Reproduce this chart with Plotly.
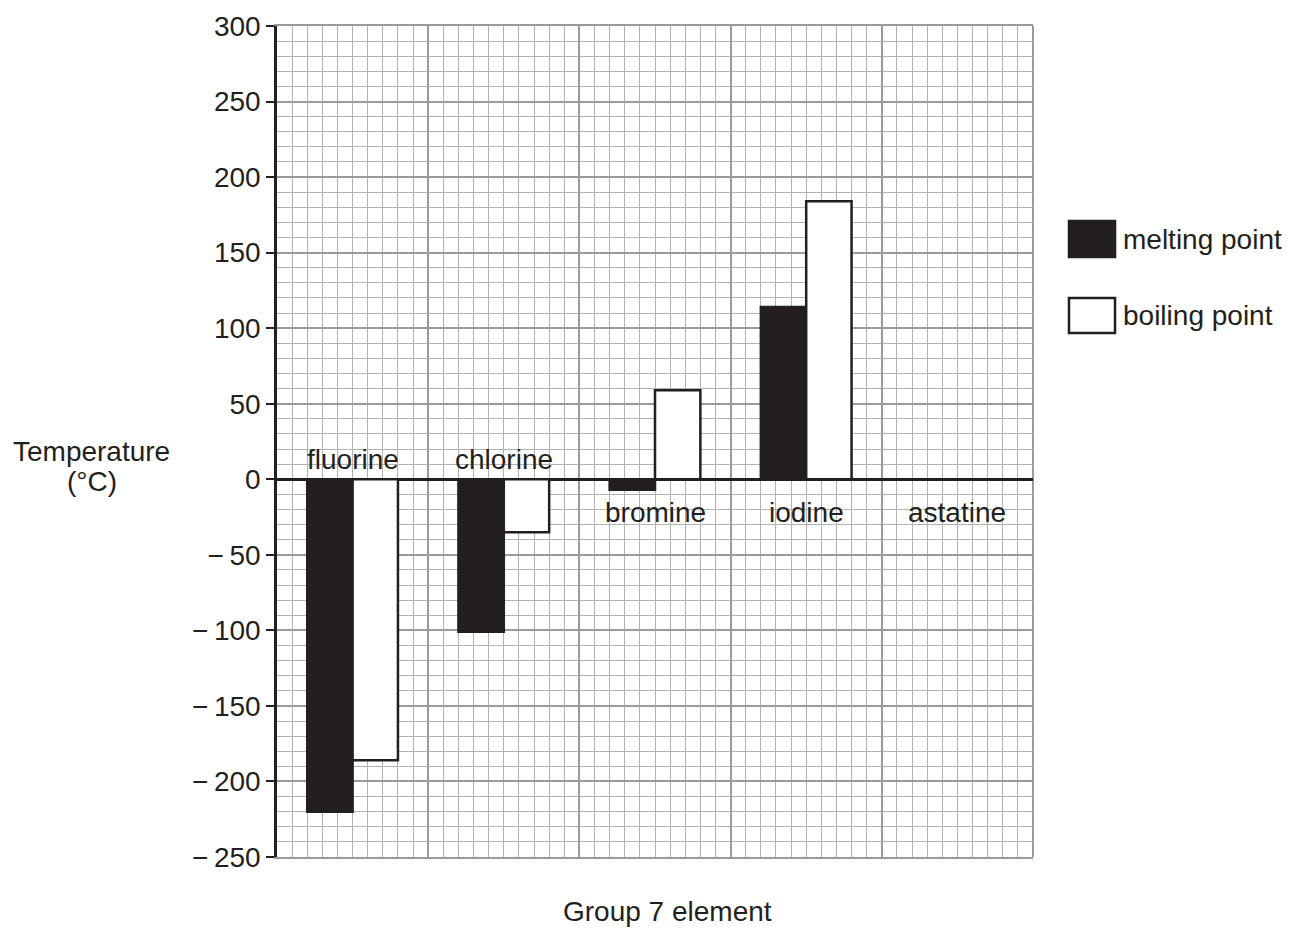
import plotly.graph_objects as go

elements = ["fluorine", "chlorine", "bromine", "iodine", "astatine"]
melting_point = [-220, -101, -7, 114, None]
boiling_point = [-186, -35, 59, 184, None]
label_side = ["above", "above", "below", "below", "below"]
y_ticks = [300, 250, 200, 150, 100, 50, 0, -50, -100, -150, -200, -250]
y_tick_labels = [("\u2212\u2009" + str(-v)) if v < 0 else str(v) for v in y_ticks]

INK = "#231f20"
FONT = "Liberation Sans, Arial, sans-serif"
FS = 28

# category positions on a continuous axis: each element spans 10 small squares
centers = [10 * i + 5 for i in range(len(elements))]
bar_w = 3

fig = go.Figure()
fig.add_trace(go.Bar(
    x=[c - bar_w / 2 for c in centers], y=melting_point, width=bar_w,
    marker=dict(color=INK, line=dict(color=INK, width=2.5)),
    name="melting point", showlegend=False, hoverinfo="skip"))
fig.add_trace(go.Bar(
    x=[c + bar_w / 2 for c in centers], y=boiling_point, width=bar_w,
    marker=dict(color="white", line=dict(color=INK, width=2.5)),
    name="boiling point", showlegend=False, hoverinfo="skip"))

# category labels next to the zero line
for c, name, side in zip(centers, elements, label_side):
    fig.add_annotation(x=c, y=0, text=name, showarrow=False,
                       yanchor="bottom" if side == "above" else "top",
                       yshift=2 if side == "above" else -16,
                       font=dict(family=FONT, size=FS, color=INK))

# legend drawn as boxes + text
legend_items = [("melting point", INK, 0.7653, 0.722), ("boiling point", "white", 0.6727, 0.6306)]
for text, col, y1, y0 in legend_items:
    fig.add_shape(type="rect", xref="paper", yref="paper", x0=1.0476, x1=1.1085, y0=y0, y1=y1,
                  fillcolor=col, line=dict(color=INK, width=2.5))
    fig.add_annotation(xref="paper", yref="paper", x=1.1164, y=(y0 + y1) / 2, text=text,
                       showarrow=False, xanchor="left", yanchor="middle",
                       font=dict(family=FONT, size=FS, color=INK))

for txt, yy in [("Temperature", 0.4874), ("(°C)", 0.4513)]:
    fig.add_annotation(xref="paper", yref="paper", x=-0.245, y=yy, text=txt,
                       showarrow=False, xanchor="center", yanchor="middle",
                       font=dict(family=FONT, size=FS, color=INK))
fig.add_annotation(xref="paper", yref="paper", x=0.517, y=-0.066, text="Group 7 element",
                   showarrow=False, xanchor="center", yanchor="middle",
                   font=dict(family=FONT, size=FS, color=INK))

fig.update_layout(
    width=1285, height=921,
    margin=dict(l=269, r=260, t=18, b=72, autoexpand=False),
    paper_bgcolor="white", plot_bgcolor="white",
    barmode="overlay", showlegend=False,
    font=dict(family=FONT, size=FS, color=INK),
    xaxis=dict(range=[0, 50], tickmode="linear", tick0=0, dtick=10, showticklabels=False,
               ticks="", showgrid=True, gridcolor="#9a9a9a", gridwidth=2, automargin=False,
               minor=dict(tickmode="linear", tick0=0, dtick=1, showgrid=True, gridcolor="#b3b3b3", gridwidth=1),
               zeroline=False, showline=True, linecolor="#9a9a9a", linewidth=2, mirror=True,
               fixedrange=True),
    yaxis=dict(range=[-250, 300], tickmode="array", tickvals=y_ticks, ticktext=y_tick_labels,
               ticks="outside", ticklen=8, tickwidth=2, tickcolor=INK, automargin=False,
               tickfont=dict(family=FONT, size=FS, color=INK),
               showgrid=True, gridcolor="#9a9a9a", gridwidth=2,
               minor=dict(tickmode="linear", tick0=0, dtick=10, showgrid=True, gridcolor="#b3b3b3", gridwidth=1),
               zeroline=True, zerolinecolor=INK, zerolinewidth=2.5,
               showline=True, linecolor=INK, linewidth=2.5, fixedrange=True),
)

# right edge of the grid
fig.add_shape(type="line", xref="paper", yref="paper", x0=1, x1=1, y0=0, y1=1,
              line=dict(color="#9a9a9a", width=2), layer="below")

fig.write_html("out.html")
